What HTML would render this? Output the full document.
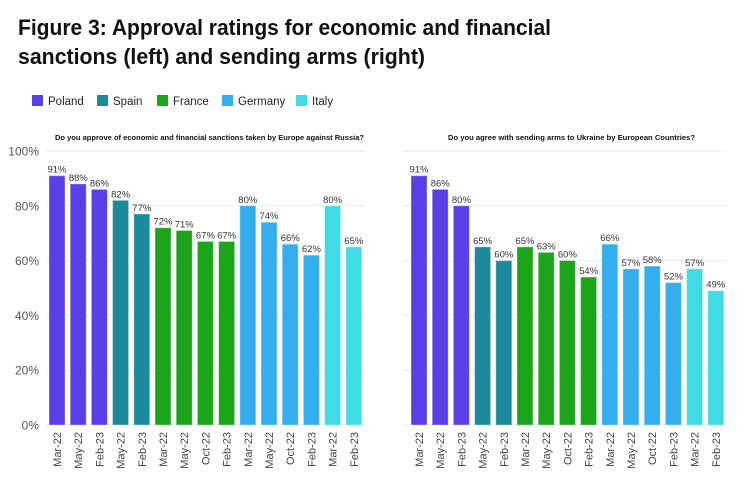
<!DOCTYPE html><html><head><meta charset="utf-8"><style>
body{margin:0;background:#fff;font-family:"Liberation Sans",sans-serif}
</style></head><body>
<svg width="746" height="492" xmlns="http://www.w3.org/2000/svg" font-family="Liberation Sans, sans-serif">
<text x="18" y="35" font-size="22" font-weight="bold" fill="#111" textLength="533" lengthAdjust="spacingAndGlyphs">Figure 3: Approval ratings for economic and financial</text>
<text x="18" y="64" font-size="22" font-weight="bold" fill="#111" textLength="407" lengthAdjust="spacingAndGlyphs">sanctions (left) and sending arms (right)</text>
<g font-size="11.5" fill="#222">
<rect x="32" y="95" width="11" height="11" fill="#5a3fe8"/><text x="48" y="105">Poland</text>
<rect x="97" y="95" width="11" height="11" fill="#1b8a9a"/><text x="113" y="105">Spain</text>
<rect x="157" y="95" width="11" height="11" fill="#1aa51a"/><text x="173" y="105">France</text>
<rect x="222" y="95" width="11" height="11" fill="#33aeef"/><text x="238" y="105">Germany</text>
<rect x="296" y="95" width="11" height="11" fill="#41dbe6"/><text x="312" y="105">Italy</text>
</g>
<text x="55" y="140" font-size="7.5" font-weight="bold" fill="#111" textLength="309" lengthAdjust="spacingAndGlyphs">Do you approve of economic and financial sanctions taken by Europe against Russia?</text>
<text x="448" y="140" font-size="7.5" font-weight="bold" fill="#111" textLength="247" lengthAdjust="spacingAndGlyphs">Do you agree with sending arms to Ukraine by European Countries?</text>
<g id="g"></g>
</svg>
<script>
var L=[91,88,86,82,77,72,71,67,67,80,74,66,62,80,65],R=[91,86,80,65,60,65,63,60,54,66,57,58,52,57,49];
var C=["#5a3fe8","#5a3fe8","#5a3fe8","#1b8a9a","#1b8a9a","#1aa51a","#1aa51a","#1aa51a","#1aa51a","#33aeef","#33aeef","#33aeef","#33aeef","#41dbe6","#41dbe6"];
var X=["Mar-22","May-22","Feb-23","May-22","Feb-23","Mar-22","May-22","Oct-22","Feb-23","Mar-22","May-22","Oct-22","Feb-23","Mar-22","Feb-23"];
var s="";var y0=425,h=274;
function ch(d,gx0,gx1,bx,lab){
 for(var i=0;i<=5;i++){var y=y0-h*i/5;s+='<line x1="'+gx0+'" x2="'+gx1+'" y1="'+y+'" y2="'+y+'" stroke="#ebebeb" stroke-width="1"/>';
 if(lab)s+='<text x="39" y="'+(y+4.5)+'" font-size="12" fill="#555" text-anchor="end">'+(i*20)+'%</text>';}
 for(var i=0;i<15;i++){var x=bx+i*21.2,v=d[i],y=y0-h*v/100;
 s+='<rect x="'+x+'" y="'+y+'" width="16" height="'+(y0-y)+'" fill="'+C[i]+'" stroke="rgba(255,255,255,0.35)" stroke-width="1"/>';
 s+='<text x="'+(x+8)+'" y="'+(y-3)+'" font-size="9.5" fill="#333" text-anchor="middle">'+v+'%</text>';
 s+='<text transform="translate('+(x+12)+',432) rotate(-90)" font-size="11" fill="#444" text-anchor="end">'+X[i]+'</text>';}
}
ch(L,46,365,49,true);ch(R,403,727,411,false);
document.getElementById("g").innerHTML=s;
</script>
</body></html>
